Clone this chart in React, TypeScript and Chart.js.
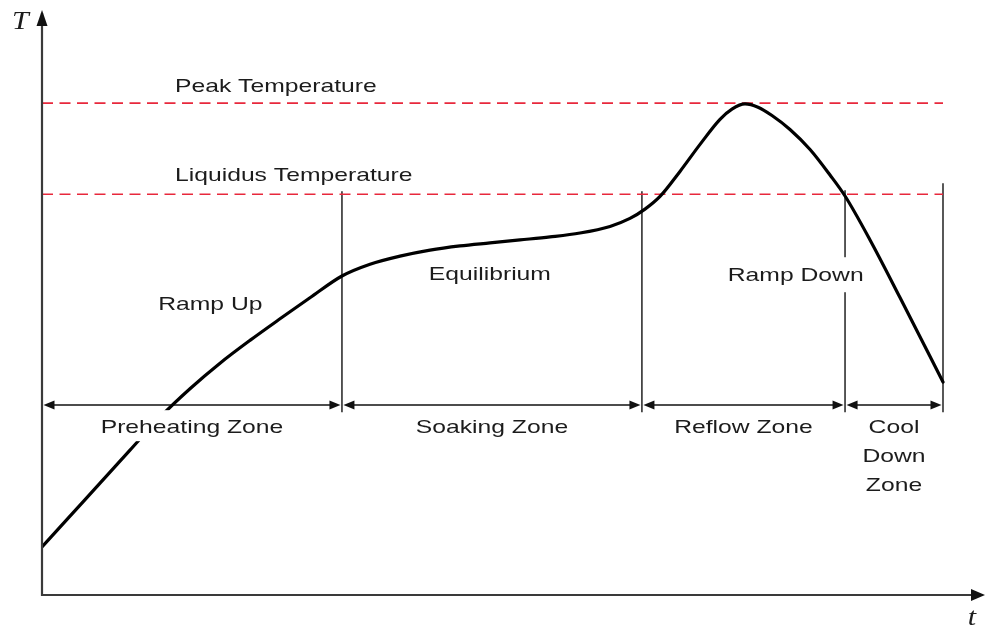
import React, { useEffect, useRef } from 'react';
import { Chart, registerables } from 'chart.js';

Chart.register(...registerables);

// ---- data (normalised time 0..100, normalised temperature 0..100) ----
const timeValues = [0, 3.0, 6.22, 9.43, 12.65, 15.86, 19.08, 22.29, 25.51, 28.72, 32.15, 35.16, 38.37, 41.59, 44.8, 48.02, 51.23, 54.45, 57.66, 60.88, 63.02, 64.63, 66.24, 68.38, 70.53, 72.67, 73.95, 75.35, 76.74, 78.24, 80.17, 82.32, 84.46, 86.07, 88.75, 91.96, 96.57];
const tempValues = [8.28, 13.59, 19.28, 24.97, 30.66, 35.57, 39.97, 43.9, 47.62, 51.24, 55.0, 57.03, 58.43, 59.47, 60.19, 60.71, 61.22, 61.74, 62.41, 63.55, 64.93, 66.53, 68.72, 73.03, 77.69, 82.0, 83.76, 84.66, 84.1, 82.67, 80.26, 76.81, 72.41, 68.79, 61.21, 51.29, 36.72];

const peakTemperature = 84.8;
const liquidusTemperature = 69.1;
const zoneEdges = [0, 32.15, 64.3, 86.07, 96.57];
const zoneNames = [['Preheating Zone'], ['Soaking Zone'], ['Reflow Zone'], ['Cool', 'Down', 'Zone']];
const zoneArrowLevel = 32.76;
const boundaryBottom = 31.5;
const boundaryTops = [69.6, 69.6, 69.8, 71.0];
const axisMin = 0;
const axisMax = 100;

// text annotations in data coordinates
const levelLabels = [
  { text: 'Peak Temperature', x: 14.25, y: 86.7, align: 'left' },
  { text: 'Liquidus Temperature', x: 14.25, y: 71.4, align: 'left' },
];
const phaseLabels = [
  { text: 'Ramp Up', x: 12.45, y: 49.1, align: 'left', box: false },
  { text: 'Equilibrium', x: 48.0, y: 54.3, align: 'center', box: false },
  { text: 'Ramp Down', x: 73.5, y: 54.1, align: 'left', box: true },
];
const zoneLabelLevel = 27.9;

const TEXT_FONT = '19px "Liberation Sans", Arial, sans-serif';
const TEXT_SX = 1.3;
const TEXT_COLOR = '#1c1c1c';
const RED = '#e8283c';

function drawStretched(ctx: CanvasRenderingContext2D, text: string, px: number, py: number, align: string, font: string, sx: number) {
  ctx.save();
  ctx.font = font;
  const w = ctx.measureText(text).width * sx;
  const left = align === 'center' ? px - w / 2 : align === 'right' ? px - w : px;
  ctx.translate(left, py);
  ctx.scale(sx, 1);
  ctx.textAlign = 'left';
  ctx.textBaseline = 'alphabetic';
  ctx.fillStyle = TEXT_COLOR;
  ctx.fillText(text, 0, 0);
  ctx.restore();
  return { left, width: w };
}

function textWidth(ctx: CanvasRenderingContext2D, text: string, font: string, sx: number) {
  ctx.save();
  ctx.font = font;
  const w = ctx.measureText(text).width * sx;
  ctx.restore();
  return w;
}

function arrowHead(ctx: CanvasRenderingContext2D, tx: number, ty: number, dx: number, dy: number, len: number, hw: number, color: string) {
  const bx = tx - dx * len;
  const by = ty - dy * len;
  const px = -dy;
  const py = dx;
  ctx.beginPath();
  ctx.moveTo(tx, ty);
  ctx.lineTo(bx + px * hw, by + py * hw);
  ctx.lineTo(bx - px * hw, by - py * hw);
  ctx.closePath();
  ctx.fillStyle = color;
  ctx.fill();
}

const overlayPlugin = {
  id: 'overlay',
  afterDatasetsDraw(chart: any) {
    const { ctx } = chart;
    const xs = chart.scales.x;
    const ys = chart.scales.y;
    ctx.save();

    // zone arrowheads
    const ay = ys.getPixelForValue(zoneArrowLevel);
    for (let i = 0; i < zoneEdges.length - 1; i++) {
      const x0 = xs.getPixelForValue(zoneEdges[i]);
      const x1 = xs.getPixelForValue(zoneEdges[i + 1]);
      arrowHead(ctx, x0 + 1.5, ay, -1, 0, 11, 4.5, '#111');
      arrowHead(ctx, x1 - 1.5, ay, 1, 0, 11, 4.5, '#111');
    }

    // zone labels with white background
    const zy = ys.getPixelForValue(zoneLabelLevel);
    zoneNames.forEach((lines, i) => {
      const cx = (xs.getPixelForValue(zoneEdges[i]) + xs.getPixelForValue(zoneEdges[i + 1])) / 2;
      lines.forEach((line, j) => {
        const by = zy + j * 29;
        const w = textWidth(ctx, line, TEXT_FONT, TEXT_SX);
        ctx.fillStyle = '#ffffff';
        ctx.fillRect(cx - w / 2 - 3, by - 23, w + 6, 31);
        drawStretched(ctx, line, cx, by, 'center', TEXT_FONT, TEXT_SX);
      });
    });

    // phase labels
    phaseLabels.forEach((l) => {
      const px = xs.getPixelForValue(l.x);
      const py = ys.getPixelForValue(l.y);
      if (l.box) {
        const w = textWidth(ctx, l.text, TEXT_FONT, TEXT_SX);
        const left = l.align === 'center' ? px - w / 2 : px;
        ctx.fillStyle = '#ffffff';
        ctx.fillRect(left - 3, py - 24, w + 6, 35);
      }
      drawStretched(ctx, l.text, px, py, l.align, TEXT_FONT, TEXT_SX);
    });

    // level labels
    levelLabels.forEach((l) => {
      drawStretched(ctx, l.text, xs.getPixelForValue(l.x), ys.getPixelForValue(l.y), l.align, TEXT_FONT, TEXT_SX);
    });

    // axes with arrows
    const left = xs.getPixelForValue(axisMin);
    const bottom = ys.getPixelForValue(axisMin);
    const top = ys.getPixelForValue(axisMax);
    const right = xs.getPixelForValue(axisMax);
    ctx.lineCap = 'butt';
    ctx.strokeStyle = '#3a3a3a';
    ctx.lineWidth = 2.2;
    ctx.beginPath();
    ctx.moveTo(left, bottom + 1);
    ctx.lineTo(left, top - 2);
    ctx.stroke();
    arrowHead(ctx, left, top - 5, 0, -1, 16, 5.5, '#111');
    ctx.beginPath();
    ctx.moveTo(left - 1, bottom);
    ctx.lineTo(right + 1, bottom);
    ctx.stroke();
    arrowHead(ctx, right + 10, bottom, 1, 0, 14, 6, '#111');

    // axis names
    drawStretched(ctx, 'T', left - 30, top + 14, 'left', 'italic 25px "Liberation Serif", "Times New Roman", serif', 1.2);
    drawStretched(ctx, 't', right - 3, bottom + 30, 'center', 'italic 25px "Liberation Serif", "Times New Roman", serif', 1.2);

    ctx.restore();
  },
};

export default function App() {
  const ref = useRef<HTMLCanvasElement | null>(null);

  useEffect(() => {
    if (!ref.current) return;
    const curve = timeValues.map((t, i) => ({ x: t, y: tempValues[i] }));
    const last = zoneEdges[zoneEdges.length - 1];

    const datasets: any[] = [
      {
        label: 'Temperature',
        data: curve,
        showLine: true,
        borderColor: '#000',
        borderWidth: 3.2,
        pointRadius: 0,
        cubicInterpolationMode: 'monotone',
        borderCapStyle: 'round',
        borderJoinStyle: 'round',
      },
      {
        label: 'Peak Temperature',
        data: [{ x: 0, y: peakTemperature }, { x: last, y: peakTemperature }],
        showLine: true,
        borderColor: RED,
        borderWidth: 1.6,
        borderDash: [11, 6.5],
        pointRadius: 0,
      },
      {
        label: 'Liquidus Temperature',
        data: [{ x: 0, y: liquidusTemperature }, { x: last, y: liquidusTemperature }],
        showLine: true,
        borderColor: RED,
        borderWidth: 1.6,
        borderDash: [11, 6.5],
        pointRadius: 0,
      },
    ];

    zoneEdges.slice(1).forEach((e, i) => {
      datasets.push({
        label: 'boundary' + i,
        data: [{ x: e, y: boundaryBottom }, { x: e, y: boundaryTops[i] }],
        showLine: true,
        borderColor: '#111',
        borderWidth: 1.4,
        pointRadius: 0,
      });
    });
    for (let i = 0; i < zoneEdges.length - 1; i++) {
      datasets.push({
        label: 'zone' + i,
        data: [{ x: zoneEdges[i] + 0.6, y: zoneArrowLevel }, { x: zoneEdges[i + 1] - 0.6, y: zoneArrowLevel }],
        showLine: true,
        borderColor: '#111',
        borderWidth: 1.4,
        pointRadius: 0,
      });
    }

    const chart = new Chart(ref.current, {
      type: 'scatter',
      data: { datasets },
      options: {
        animation: false,
        responsive: false,
        devicePixelRatio: 1,
        layout: { padding: { left: 42, right: 11, top: 15, bottom: 34 } },
        scales: {
          x: { type: 'linear', min: axisMin, max: axisMax, display: false },
          y: { type: 'linear', min: axisMin, max: axisMax, display: false },
        },
        plugins: { legend: { display: false }, tooltip: { enabled: false } },
        events: [],
      },
      plugins: [overlayPlugin],
    } as any);
    return () => chart.destroy();
  }, []);

  return (
    <div style={{ position: 'fixed', left: 0, top: 0, width: 986, height: 629, background: '#fff' }}>
      <canvas ref={ref} width={986} height={629} style={{ display: 'block', width: 986, height: 629 }} />
    </div>
  );
}
